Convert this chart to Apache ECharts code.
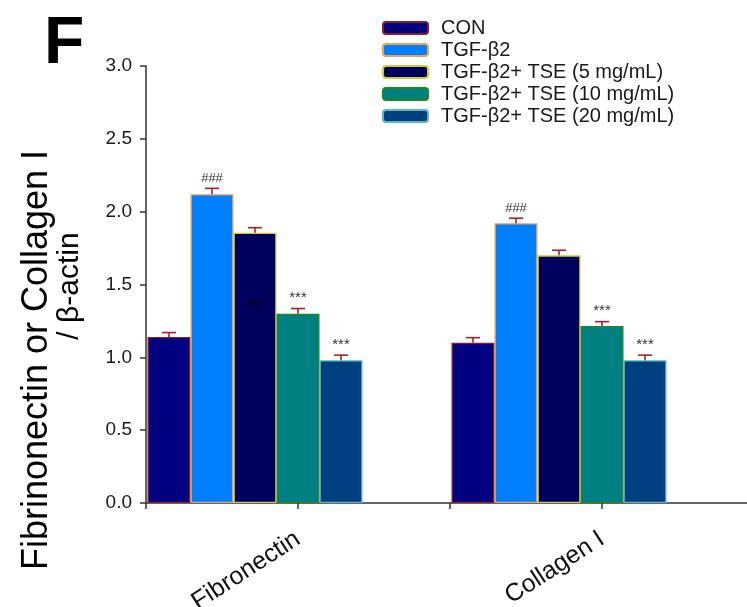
<!DOCTYPE html>
<html>
<head>
<meta charset="utf-8">
<script src="https://cdn.jsdelivr.net/npm/echarts@6/dist/echarts.min.js"></script>
<style>html,body{margin:0;padding:0;background:#fff}#c{width:747px;height:607px}</style>
</head>
<body>
<div id="c"></div>
<script>
// ---- data ----
const categories = ['Fibronectin', 'Collagen I'];
const seriesNames = ['CON', 'TGF-β2', 'TGF-β2+ TSE (5 mg/mL)', 'TGF-β2+ TSE (10 mg/mL)', 'TGF-β2+ TSE (20 mg/mL)'];
const conVals = [1.14, 1.10];
const tgfVals = [2.12, 1.92];
const tse5Vals = [1.855, 1.70];
const tse10Vals = [1.30, 1.215];
const tse20Vals = [0.98, 0.98];
const conErr = [0.03, 0.035];
const tgfErr = [0.04, 0.035];
const tse5Err = [0.035, 0.035];
const tse10Err = [0.035, 0.03];
const tse20Err = [0.035, 0.035];
const conSig = ['', ''];
const tgfSig = ['###', '###'];
const tse5Sig = ['***', ''];
const tse10Sig = ['***', '***'];
const tse20Sig = ['***', '***'];
const yMin = 0, yMax = 3, yStep = 0.5;

// ---- styles ----
const fills = ['#000080', '#0080FF', '#00005E', '#008080', '#004080'];
const borders = ['#8A1C2C', '#F5A04A', '#CFCB3A', '#1E8A1E', '#5CB8B8'];
const BAR_W = 43;
const NSLOT = 7;

const allVals = [conVals, tgfVals, tse5Vals, tse10Vals, tse20Vals];
const allErr = [conErr, tgfErr, tse5Err, tse10Err, tse20Err];
const allSig = [conSig, tgfSig, tse5Sig, tse10Sig, tse20Sig];

const series = [];
for (let s = 0; s < seriesNames.length; s++) {
  series.push({
    name: seriesNames[s], type: 'bar', xAxisIndex: 0,
    barWidth: BAR_W, barGap: '0%',
    itemStyle: { color: fills[s], borderColor: borders[s], borderWidth: 1.3 },
    data: allVals[s], z: 2
  });
}
// empty slots to the right (SigmaPlot-style left-aligned group)
for (let k = 0; k < NSLOT - seriesNames.length; k++) {
  series.push({ name: 'gap' + k, type: 'bar', xAxisIndex: 0, barWidth: BAR_W, barGap: '0%', data: ['-', '-'] });
}
const errData = [];
for (let s = 0; s < seriesNames.length; s++) {
  for (let c = 0; c < categories.length; c++) {
    errData.push([c, s, allVals[s][c], allErr[s][c], allSig[s][c]]);
  }
}
series.push({
  type: 'custom', xAxisIndex: 0, z: 5, silent: true,
  encode: { x: 0, y: 2 },
  data: errData,
  renderItem: function (params, api) {
    const c = api.value(0), s = api.value(1), v = api.value(2), e = api.value(3);
    const sig = errData[params.dataIndex][4];
    const center = api.coord([c, 0])[0];
    const x = center - NSLOT * BAR_W / 2 + BAR_W * (s + 0.5);
    const yTop = api.coord([c, v])[1];
    const yE = api.coord([c, v + e])[1];
    const st = { stroke: '#A3202E', lineWidth: 1.6 };
    const children = [
      { type: 'line', shape: { x1: x, y1: yTop, x2: x, y2: yE }, style: st },
      { type: 'line', shape: { x1: x - 7, y1: yE, x2: x + 7, y2: yE }, style: st }
    ];
    if (sig) {
      const inside = (s === 2);
      const ty = inside ? api.coord([c, v - 0.5])[1] : yE - 3;
      children.push({ type: 'text', x: x, y: ty, style: {
        text: sig, fill: inside ? '#000' : '#333', font: (sig === '###' ? '13px' : '15px') + ' "Liberation Sans", Arial',
        align: 'center', verticalAlign: inside ? 'middle' : 'bottom' } });
    }
    return { type: 'group', children: children };
  }
});

const chart = echarts.init(document.getElementById('c'));
chart.setOption({
  animation: false,
  backgroundColor: '#fff',
  textStyle: { fontFamily: '"Liberation Sans", Arial, sans-serif' },
  grid: { left: 146, top: 66, bottom: 104, width: 608, containLabel: false, outerBoundsMode: 'none' },
  legend: {
    data: seriesNames, orient: 'vertical', left: 377, top: 13,
    itemWidth: 45, itemHeight: 12, itemGap: 2,
    textStyle: { fontSize: 20, color: '#1a1a1a', lineHeight: 20, padding: [0, 0, 0, 8] }
  },
  xAxis: [{
    type: 'category', data: categories, position: 'bottom',
    axisLine: { lineStyle: { color: '#333', width: 1.5 } },
    axisTick: { show: true, length: 6, lineStyle: { color: '#333', width: 1.5 } },
    axisLabel: { rotate: 33, fontSize: 25, color: '#111', margin: 34 }
  }, {
    type: 'category', data: categories, position: 'bottom',
    axisLine: { show: false },
    axisTick: { show: true, alignWithLabel: true, length: 6, lineStyle: { color: '#333', width: 1.5 } },
    axisLabel: { show: false }
  }],
  yAxis: {
    type: 'value', min: yMin, max: yMax, interval: yStep,
    axisLine: { show: true, lineStyle: { color: '#333', width: 1.5 } },
    axisTick: { show: true, length: 6, lineStyle: { color: '#333', width: 1.5 } },
    axisLabel: { fontSize: 19, color: '#1a1a1a', margin: 14, formatter: v => v.toFixed(1) },
    splitLine: { show: false }
  },
  graphic: [
    { type: 'text', left: 44, top: 12, style: { text: 'F', font: 'bold 66px "Liberation Sans", Arial', fill: '#000' } },
    { type: 'text', x: 37, y: 360, rotation: Math.PI / 2, style: { text: 'Fibrinonectin or Collagen I', font: '36px "Liberation Sans", Arial', fill: '#000', align: 'center', verticalAlign: 'middle' } },
    { type: 'text', x: 70, y: 286, rotation: Math.PI / 2, style: { text: '/ β-actin', font: '30px "Liberation Sans", Arial', fill: '#000', align: 'center', verticalAlign: 'middle' } }
  ],
  series: series
});
</script>
</body>
</html>
